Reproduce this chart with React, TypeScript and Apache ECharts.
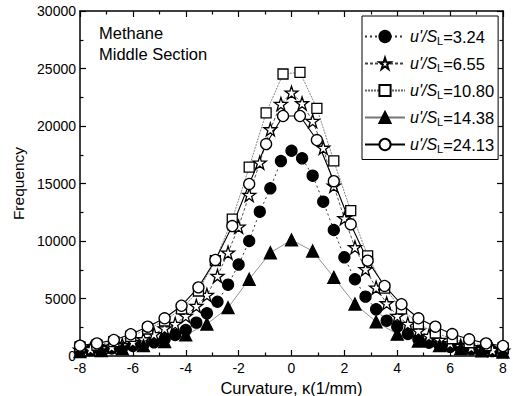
import React, { useEffect, useRef } from "react";
import * as echarts from "echarts";

// x positions (curvature, 1/mm) of the plotted markers
const xStep064 = [-8, -7.36, -6.72, -6.08, -5.44, -4.8, -4.16, -3.52, -2.88, -2.24, -1.6, -0.96, -0.32, 0.32, 0.96, 1.6, 2.24, 2.88, 3.52, 4.16, 4.8, 5.44, 6.08, 6.72, 7.36, 8];
const xStep04 = [-8, -7.6, -7.2, -6.8, -6.4, -6, -5.6, -5.2, -4.8, -4.4, -4, -3.6, -3.2, -2.8, -2.4, -2, -1.6, -1.2, -0.8, -0.4, 0, 0.4, 0.8, 1.2, 1.6, 2, 2.4, 2.8, 3.2, 3.6, 4, 4.4, 4.8, 5.2, 5.6, 6, 6.4, 6.8, 7.2, 7.6, 8];
const xStep08 = [-8, -7.2, -6.4, -5.6, -4.8, -4, -3.2, -2.4, -1.6, -0.8, 0, 0.8, 1.6, 2.4, 3.2, 4, 4.8, 5.6, 6.4, 7.2, 8];

// Frequencies
const f324 = [450, 500, 560, 650, 750, 870, 1000, 1190, 1450, 1830, 2260, 2900, 3710, 4720, 6200, 7950, 10000, 12550, 14580, 16950, 17850, 17190, 15680, 13420, 10960, 8580, 6670, 5160, 4060, 3070, 2550, 1910, 1450, 1150, 950, 800, 680, 580, 500, 430, 380];
const f655 = [550, 600, 670, 800, 950, 1220, 1450, 1900, 2400, 2780, 3480, 4350, 5300, 6960, 8980, 11240, 14000, 16810, 19710, 21910, 22900, 21970, 20430, 18100, 14800, 11970, 9450, 7540, 5940, 4580, 3480, 2780, 2200, 1740, 1390, 1100, 870, 760, 580, 520, 450];
const f1080 = [800, 950, 1250, 1700, 2350, 3050, 4100, 5650, 8300, 11900, 16430, 21150, 24520, 24670, 21540, 16960, 12640, 8700, 5900, 4100, 2800, 2000, 1500, 1150, 900, 700];
const f1438 = [380, 480, 650, 900, 1250, 1830, 2780, 4200, 6670, 8980, 10090, 9130, 6840, 4520, 2980, 1900, 1300, 900, 650, 450, 350];
const f2413 = [900, 1100, 1390, 1890, 2550, 3280, 4370, 5970, 8350, 11300, 14960, 18430, 20870, 20870, 18780, 15200, 11450, 8290, 6090, 4500, 3280, 2550, 1910, 1450, 1100, 870];

const seriesNames = ["3.24", "6.55", "10.80", "14.38", "24.13"];
const xTicks = [-8, -6, -4, -2, 0, 2, 4, 6, 8];
const yTicks = [0, 5000, 10000, 15000, 20000, 25000, 30000];

const FONT = "'Liberation Sans', Arial, sans-serif";
const STAR = "path://M50,2 L61,36 L97,36 L68,57 L79,92 L50,71 L21,92 L32,57 L3,36 L39,36 Z";

const pairs = (xs: number[], ys: number[]) => xs.map((x, i) => [x, ys[i]]);

export default function App() {
  const ref = useRef<HTMLDivElement>(null);
  useEffect(() => {
    if (!ref.current) return;
    const chart = echarts.init(ref.current, undefined, { renderer: "svg" });
    const axisCommon = {
      axisLine: { show: true, onZero: false, lineStyle: { color: "#000", width: 1.5 } },
      axisTick: { show: true, inside: true, length: 6, lineStyle: { color: "#000", width: 1.2 } },
      minorTick: { show: true, splitNumber: 2, length: 3.5, lineStyle: { color: "#000", width: 1.2 } },
      splitLine: { show: false },
    };
    const mk = (
      name: string,
      data: number[][],
      symbol: string,
      size: number,
      fill: string,
      line: any
    ) => ({
      name,
      type: "line",
      data,
      symbol,
      symbolSize: size,
      showSymbol: true,
      itemStyle: { color: fill, borderColor: "#000", borderWidth: 1.3 },
      lineStyle: line,
      emphasis: { disabled: true },
    });
    chart.setOption({
      animation: false,
      textStyle: { fontFamily: FONT },
      grid: { left: 80, right: 10, top: 11, bottom: 40, containLabel: false, outerBoundsMode: "none" },
      xAxis: [
        {
          type: "value",
          min: -8,
          max: 8,
          interval: 2,
          position: "bottom",
          name: "Curvature, \u03ba(1/mm)",
          nameLocation: "middle",
          nameGap: 18,
          nameTextStyle: { fontSize: 16.5, color: "#000", fontFamily: FONT },
          axisLabel: { fontSize: 14, color: "#000", margin: 5, fontFamily: FONT,
            formatter: (v: number) => (xTicks.includes(v) ? String(v) : "") },
          ...axisCommon,
        },
        {
          type: "value",
          min: -8,
          max: 8,
          interval: 2,
          position: "top",
          axisLabel: { show: false },
          ...axisCommon,
        },
      ],
      yAxis: [
        {
          type: "value",
          min: 0,
          max: 30000,
          interval: 5000,
          position: "left",
          name: "Frequency",
          nameLocation: "middle",
          nameGap: 54,
          nameTextStyle: { fontSize: 15.5, color: "#000", fontFamily: FONT },
          axisLabel: { fontSize: 14, color: "#000", margin: 4, fontFamily: FONT,
            formatter: (v: number) => (yTicks.includes(v) ? String(v) : "") },
          ...axisCommon,
        },
        {
          type: "value",
          min: 0,
          max: 30000,
          interval: 5000,
          position: "right",
          axisLabel: { show: false },
          ...axisCommon,
        },
      ],
      legend: {
        orient: "vertical",
        left: 362,
        top: 16,
        padding: [12, 4, 5, 2],
        itemGap: 8.5,
        itemWidth: 40,
        itemHeight: 14,
        itemTextGap: 0,
        borderColor: "#000",
        borderWidth: 1,
        backgroundColor: "#fff",
        data: seriesNames,
        formatter: (n: string) => `{i|u'/S}{s|L}{n|=${n}}`,
        textStyle: {
          color: "#000",
          fontFamily: FONT,
          rich: {
            i: { fontSize: 16, fontStyle: "italic", color: "#000", fontFamily: FONT, lineHeight: 20, verticalAlign: "middle" },
            s: { fontSize: 11, color: "#000", fontFamily: FONT, lineHeight: 11, verticalAlign: "bottom" },
            n: { fontSize: 16.5, color: "#000", fontFamily: FONT, lineHeight: 20, verticalAlign: "middle" },
          },
        },
      },
      graphic: [
        {
          type: "text",
          left: 99,
          top: 22,
          style: {
            text: "Methane\nMiddle Section",
            font: `16.5px ${FONT}`,
            fill: "#000",
            lineHeight: 21,
          },
        },
      ],
      series: [
        mk(seriesNames[0], pairs(xStep04, f324), "circle", 11, "#000", { color: "#333", width: 1, type: [2, 3] }),
        mk(seriesNames[1], pairs(xStep04, f655), STAR, 13, "#fff", { color: "#444", width: 0.9, type: [3, 2] }),
        mk(seriesNames[2], pairs(xStep064, f1080), "rect", 10, "#fff", { color: "#666", width: 0.8, type: [2, 1] }),
        mk(seriesNames[3], pairs(xStep08, f1438), "triangle", 12, "#000", { color: "#777", width: 0.8, type: "solid" }),
        mk(seriesNames[4], pairs(xStep064, f2413), "circle", 11, "#fff", { color: "#000", width: 1.1, type: "solid" }),
      ],
    });
    return () => chart.dispose();
  }, []);
  return (
    <div
      ref={ref}
      style={{ position: "absolute", left: 0, top: 0, width: 513, height: 396, background: "#fff" }}
    />
  );
}
